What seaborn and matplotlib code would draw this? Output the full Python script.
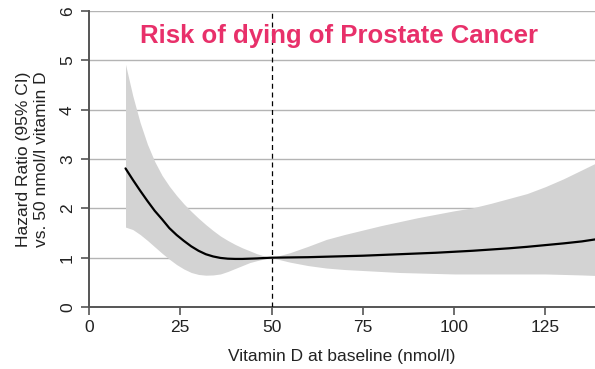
import numpy as np
import pandas as pd
import matplotlib
matplotlib.use('Agg')
import matplotlib.pyplot as plt
import seaborn as sns

# Values
vit_d = [10, 12, 14, 16, 18, 20, 22, 24, 26, 28, 30, 32, 34, 36, 38, 40, 42, 44, 46, 48, 50,
         55, 60, 65, 70, 75, 80, 85, 90, 95, 100, 105, 110, 115, 120, 125, 130, 135, 138.6]
hazard = [2.81, 2.58, 2.36, 2.15, 1.95, 1.78, 1.60, 1.46, 1.34, 1.23, 1.14, 1.07, 1.025, 0.995,
          0.98, 0.975, 0.975, 0.98, 0.985, 0.993, 1.0,
          1.005, 1.01, 1.02, 1.03, 1.04, 1.055, 1.07, 1.085, 1.10, 1.12, 1.14, 1.165, 1.19,
          1.22, 1.255, 1.29, 1.33, 1.37]
ci_upper = [4.92, 4.28, 3.74, 3.30, 2.95, 2.67, 2.45, 2.26, 2.09, 1.94, 1.80, 1.67, 1.55, 1.44,
            1.35, 1.27, 1.20, 1.14, 1.08, 1.035, 1.0,
            1.10, 1.23, 1.37, 1.47, 1.56, 1.65, 1.73, 1.81, 1.88, 1.95, 2.01, 2.10, 2.20,
            2.30, 2.44, 2.60, 2.78, 2.91]
ci_lower = [1.62, 1.57, 1.47, 1.35, 1.22, 1.09, 0.97, 0.86, 0.77, 0.70, 0.66, 0.645, 0.65, 0.67,
            0.72, 0.78, 0.84, 0.90, 0.94, 0.975, 1.0,
            0.91, 0.84, 0.79, 0.76, 0.74, 0.72, 0.70, 0.69, 0.68, 0.67, 0.67, 0.67, 0.67,
            0.67, 0.67, 0.66, 0.65, 0.64]
x_ticks = [0, 25, 50, 75, 100, 125]
y_ticks = [0, 1, 2, 3, 4, 5, 6]
reference_level = 50

df = pd.DataFrame({'vit_d': vit_d, 'hr': hazard, 'lo': ci_lower, 'hi': ci_upper})

sns.set_style('white')
plt.rcParams['font.family'] = ['Liberation Sans', 'DejaVu Sans']

fig = plt.figure(figsize=(5.95, 3.69), dpi=100)
ax = fig.add_axes([0.1496, 0.168, 0.8504, 0.802])

for y in y_ticks[1:]:
    ax.axhline(y, color='#b4b4b4', lw=1.0, zorder=0)

ax.fill_between(df['vit_d'], df['lo'], df['hi'], color='#d3d3d3', lw=0, zorder=1)
sns.lineplot(data=df, x='vit_d', y='hr', color='black', lw=1.6, ax=ax, zorder=3)
ax.axvline(reference_level, color='black', lw=0.9, ls=(0, (4, 3)), zorder=4)

ax.set_xlim(0, 138.6)
ax.set_ylim(0, 6)
ax.set_xticks(x_ticks)
ax.set_yticks(y_ticks)
ax.set_yticklabels([str(v) for v in y_ticks], rotation=90, va='center')

for side in ['top', 'right']:
    ax.spines[side].set_visible(False)
for side in ['left', 'bottom']:
    ax.spines[side].set_color('#555555')
    ax.spines[side].set_linewidth(1.4)
ax.tick_params(axis='both', direction='out', length=6, width=1.2, color='#555555',
               labelsize=12.5, labelcolor='#222222', bottom=True, left=True)
ax.tick_params(axis='y', pad=4)

ax.set_xlabel('Vitamin D at baseline (nmol/l)', fontsize=12.5, color='#222222', labelpad=10)
ax.set_ylabel('Hazard Ratio (95% CI)\nvs. 50 nmol/l vitamin D', fontsize=12.5,
              color='#222222', labelpad=8, linespacing=1.25)

fig.text(0.570, 0.902, 'Risk of dying of Prostate Cancer', ha='center', va='center',
         fontsize=18.5, fontweight='bold', color='#e8306a')

fig.savefig('out.png', dpi=100)
